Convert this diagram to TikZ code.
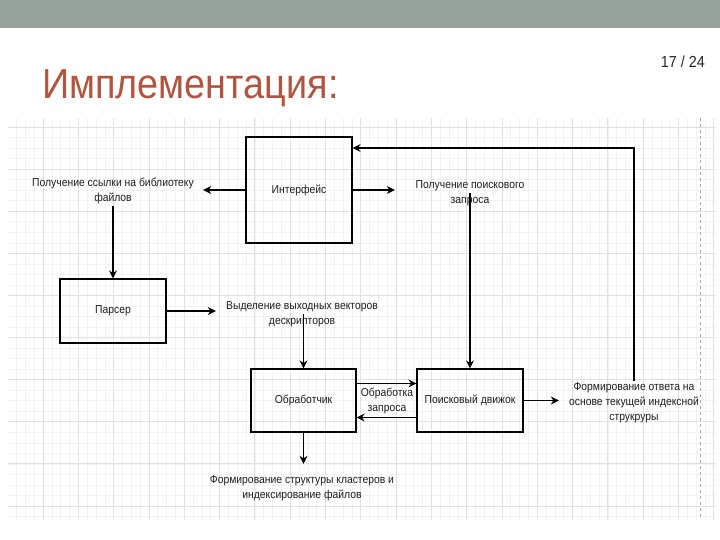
\documentclass[tikz,border=0pt]{standalone}
\usepackage{fontspec}
\setmainfont{Liberation Sans}[FakeStretch=0.9]
\usetikzlibrary{arrows.meta,positioning}
\definecolor{bargray}{RGB}{149,161,153}
\definecolor{titlered}{RGB}{176,86,64}
\definecolor{gridmajor}{RGB}{224,224,224}
\definecolor{gridminor}{RGB}{242,242,242}
\definecolor{pagegray}{RGB}{40,40,40}
\definecolor{textgray}{RGB}{30,30,30}

\begin{document}
\begin{tikzpicture}[x=1pt, y=-1pt,
    box/.style={draw, line width=1.2pt, minimum width=106pt, align=center, text=textgray, font=\fontsize{11.5}{15}\selectfont, inner sep=0pt},
    lbl/.style={align=center, text=textgray, font=\fontsize{11.5}{15}\selectfont, inner sep=2pt},
    arrow/.style={-{Stealth[length=8pt, width=8pt]}, line width=1.1pt}
]
    \useasboundingbox (0,0) rectangle (720,540);
    \fill[white] (0,0) rectangle (720,540);

    % Slide header
    \fill[bargray] (0,0) rectangle (720,28);
    \node[anchor=base west, inner sep=0pt, text=titlered, font=\fontsize{42}{46}\selectfont] (title) at (42,99) {Имплементация:};
    \node[anchor=base east, inner sep=0pt, text=pagegray, font=\fontsize{16}{18}\selectfont] (pagenum) at (705,68) {17 / 24};

    % Grid
    \begin{scope}
        \clip (8,118) rectangle (716,520);
        \foreach \gx in {0,...,80}
            \draw[gridminor, line width=0.5pt] ({7.7+8.825*\gx},118) -- ++(0,402);
        \foreach \gy in {0,...,42}
            \draw[gridminor, line width=0.5pt] (8,{84.9+10.525*\gy}) -- ++(708,0);
        \foreach \gx in {0,...,20}
            \draw[gridmajor, line width=0.7pt] ({7.7+35.3*\gx},118) -- ++(0,402);
        \foreach \gy in {0,...,9}
            \draw[gridmajor, line width=0.7pt] (8,{127+42.1*\gy}) -- ++(708,0);
    \end{scope}
    \draw[gray!70, dashed, line width=0.6pt] (700,118) -- (700,520);

    % Interface
    \node[box, minimum height=106pt] (iface) at (299,190) {Интерфейс};

    % Parser
    \node[box, minimum height=64pt] (parser) at (113,311) {Парсер};

    % Handler
    \node[box, minimum width=105pt, minimum height=63pt] (handler) at (303.5,400.5) {Обработчик};

    % Search engine
    \node[box, minimum height=63pt] (engine) at (470,400.5) {Поисковый движок};

    % Labels
    \node[lbl, minimum width=180pt] (linklbl) at (113,191) {Получение ссылки на библиотеку\\файлов};
    \node[lbl, minimum width=150pt] (querylbl) at (470,193) {Получение поискового\\запроса};
    \node[lbl, minimum width=172pt] (vectlbl) at (302,314) {Выделение выходных векторов\\дескрипторов};
    \node[lbl] (proclbl) at (387,401) {Обработка\\запроса};
    \node[lbl, minimum width=150pt] (answerlbl) at (634,403) {Формирование ответа на\\основе текущей индексной\\струкруры};
    \node[lbl, minimum height=48pt] (clusterlbl) at (302,488) {Формирование структуры кластеров и\\индексирование файлов};

    % Arrows
    \draw[arrow] (iface) -- (linklbl.east |- iface);
    \draw[arrow] (linklbl.south) -- (parser);
    \draw[arrow] (iface.east) -- (iface.east -| querylbl.west);
    \draw[arrow] (querylbl.center) -- (engine);
    \draw[arrow] (parser.east) -- (parser.east -| vectlbl.west);
    \draw[arrow] (vectlbl.center -| handler) -- (handler);
    \draw[arrow] ([yshift=17pt]handler.east) -- ([yshift=17pt]handler.east -| engine.west);
    \draw[arrow] ([yshift=-17pt]engine.west) -- ([yshift=-17pt]engine.west -| handler.east);
    \draw[arrow] (engine.east) -- (engine.east -| answerlbl.west);
    \draw[arrow] (answerlbl.north) |- ([yshift=42pt]iface.east);
    \draw[arrow] (handler.south) -- (handler.south |- clusterlbl.north);
\end{tikzpicture}
\end{document}
